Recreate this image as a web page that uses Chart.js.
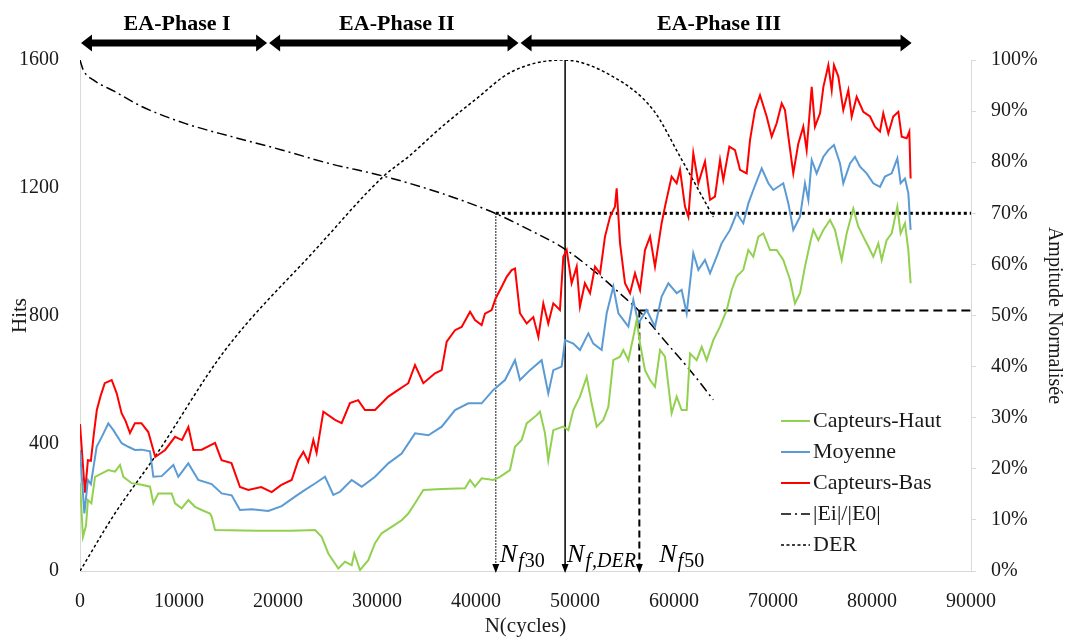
<!DOCTYPE html>
<html>
<head>
<meta charset="utf-8">
<script src="https://cdn.jsdelivr.net/npm/chart.js@4.4.0/dist/chart.umd.min.js"></script>
<style>
  html, body { margin: 0; padding: 0; background: #fff; }
  canvas { display: block; }
</style>
</head>
<body>
<canvas id="chart" width="1070" height="639"></canvas>
<script>
// グラフのデータ

// Capteurs-Bas (赤)
const basX = [0,300,500,800,1100,1400,1700,2100,2500,3200,3700,4200,4600,5050,5550,6200,6900,7600,8600,9600,10300,10950,11450,12300,13640,14300,15300,16160,17000,18300,19360,20300,21380,22050,22560,23060,23570,23900,24580,25760,26430,27270,28100,28780,29800,31140,32150,33160,33840,34680,35860,36530,37040,37880,38550,39400,39900,40570,40910,41580,41990,42600,43100,43600,43940,44440,45120,45790,46300,46800,47300,47810,48480,48820,49160,49660,50170,50500,51000,51520,52020,52530,53030,53540,54040,54210,54550,55050,55560,56060,56570,57070,57580,58080,58750,59090,59760,60270,60610,61110,61450,61950,62460,63130,63640,64140,64650,64980,65590,66160,66670,67340,67680,68180,68690,69360,69870,70370,70880,71210,71550,72050,72560,73060,73400,73910,74240,74750,75090,75590,75930,76160,76600,77100,77610,77950,78450,79120,79800,80300,80810,81140,81650,82150,82660,83000,83500,83770,83900];
const basY = [460,330,245,347,345,430,504,550,588,598,557,494,470,432,463,463,435,357,379,420,410,451,379,380,401,347,338,263,254,263,247,269,285,347,373,342,410,370,499,473,463,526,535,504,504,546,567,588,645,588,619,629,718,754,764,812,786,770,806,817,854,890,921,942,947,807,775,795,733,838,775,838,817,984,1005,901,953,828,901,870,953,932,1047,1109,1141,1198,1026,901,870,932,880,1005,1047,953,1089,1141,1235,1214,1256,1141,1109,1308,1214,1282,1162,1172,1287,1224,1329,1318,1256,1245,1350,1443,1490,1423,1360,1402,1464,1443,1360,1245,1339,1391,1318,1516,1391,1433,1516,1584,1506,1584,1548,1443,1506,1423,1485,1438,1423,1391,1376,1433,1370,1423,1438,1360,1355,1376,1229];

// Moyenne (青)
const moyX = [0,440,800,1100,1680,2200,2860,3370,4210,4880,5550,6230,7070,7410,8250,9430,9930,10940,11950,13300,14310,15320,16160,17340,19020,20370,21720,22730,23740,24750,25590,26260,27440,28450,29800,31140,32490,33840,35190,36540,37880,39230,40570,41750,42930,43940,44440,45450,46630,47300,47810,48650,48990,49830,50500,51350,51850,52690,53200,53870,54380,55390,55890,56400,57240,58080,58750,59430,60270,60770,61280,61950,62460,63130,63640,64310,64810,65660,66330,67000,67510,68010,68860,69530,70030,71040,71550,72050,72730,73230,73570,73910,74410,75090,75590,76160,76770,77100,77780,78280,78790,79460,80130,80810,81310,81990,82560,82890,83330,83670,83900];
const moyY = [379,180,285,272,389,420,462,441,400,389,379,380,375,295,297,332,295,337,285,272,243,237,191,193,188,203,233,254,274,295,238,248,285,264,295,337,368,431,425,452,504,525,525,567,598,660,598,629,660,556,629,640,723,712,692,744,712,692,807,890,807,765,849,775,817,765,859,901,870,880,807,995,943,974,932,984,1026,1068,1120,1089,1151,1193,1261,1214,1193,1214,1151,1068,1109,1214,1162,1287,1245,1297,1318,1334,1276,1214,1276,1297,1266,1245,1214,1203,1235,1245,1292,1214,1229,1183,1068];

// Capteurs-Haut (緑)
const hautX = [0,300,600,800,1150,1520,2200,2860,3540,4040,4380,5220,6230,7070,7410,7910,9260,9600,10270,10940,11620,12290,13130,13300,13640,18010,21380,23740,24410,25080,26090,26770,27440,27710,28280,29120,29800,30470,31480,32490,33160,33840,34680,36540,38890,39400,39900,40570,41750,42420,43430,43940,44610,45120,46130,46460,46970,47300,47810,48820,49330,49830,50500,51180,51680,52190,52860,53370,53870,54550,54880,55390,55890,56230,56570,57070,57580,58080,58590,59090,59760,60270,60770,61280,61620,62290,62800,63300,63970,64650,65320,65830,66330,67000,67510,68010,68520,69020,69700,70370,71040,71720,72220,72730,73230,73740,74070,74580,75090,75760,76260,76940,77440,78110,78620,79120,79630,80130,80640,80980,81480,81990,82560,82890,83330,83670,83900];
const hautY = [275,107,141,222,212,295,306,316,311,332,295,275,270,264,212,243,243,212,196,222,201,191,180,170,128,126,126,128,107,55,8,29,18,55,3,34,87,118,138,159,180,212,254,257,259,285,264,290,285,295,316,389,410,462,488,499,431,347,441,452,441,504,546,608,525,452,473,514,660,671,692,660,733,786,712,629,598,577,692,671,494,546,504,504,681,660,702,660,723,765,817,880,922,943,1005,984,1047,1057,1005,1005,974,912,838,870,953,1026,1068,1036,1068,1099,1068,974,1057,1135,1078,1047,1016,984,1026,974,1036,1057,1141,1057,1089,1005,901];

// |Ei|/|E0| (%)
const eiX = [0,340,1350,3540,6230,10600,15320,20370,25080,30800,36530,41920,45450,48820,52190,54550,56570,59260,61620,63970];
const eiY = [100,98,96.1,93.8,90.9,87.6,85.0,82.4,79.8,77.2,73.9,70.0,66.7,63.2,58.3,54.3,50.7,44.6,39.3,33.5];

// DER (%)
const derX = [0,3540,7580,14650,23740,30800,33130,36530,39900,43600,48820,53870,57910,60610,63970];
const derY = [0,11.3,22.4,43.2,62.8,77.5,81.0,86.9,92.2,97.7,100,96.7,90.2,81.1,69.3];

// 基準線
const nf30 = 42000;
const nfDer = 49000;
const nf50 = 56500;
const level30 = 70;
const level50 = 51;
const xMax = 90000;

// フェーズ
const phaseLabels = ["EA-Phase I", "EA-Phase II", "EA-Phase III"];
const phaseEdges = [0, 19000, 44400, 84100];

const serif = "'Liberation Serif', 'Times New Roman', serif";
const textColor = "#1a1a1a";

function pts(xs, ys) {
  return xs.map(function (x, i) { return { x: x, y: ys[i] }; });
}

// フェーズ矢印、Nf ラベル、凡例を描く
const annotPlugin = {
  id: "annot",
  afterDatasetsDraw(chart) {
    const ctx = chart.ctx;
    const xs = chart.scales.x;
    const yr = chart.scales.y1;
    ctx.save();
    ctx.fillStyle = "#000";

    // 上部の矢印
    const ay = 43;
    for (let i = 0; i < phaseLabels.length; i++) {
      const x1 = xs.getPixelForValue(phaseEdges[i]) + 1;
      const x2 = xs.getPixelForValue(phaseEdges[i + 1]) - 1;
      ctx.fillRect(x1 + 8, ay - 3.5, x2 - x1 - 16, 7);
      ctx.beginPath();
      ctx.moveTo(x1, ay);
      ctx.lineTo(x1 + 11, ay - 8.5);
      ctx.lineTo(x1 + 11, ay + 8.5);
      ctx.closePath();
      ctx.fill();
      ctx.beginPath();
      ctx.moveTo(x2, ay);
      ctx.lineTo(x2 - 11, ay - 8.5);
      ctx.lineTo(x2 - 11, ay + 8.5);
      ctx.closePath();
      ctx.fill();
      ctx.font = "bold 22px " + serif;
      ctx.textAlign = "center";
      ctx.textBaseline = "alphabetic";
      ctx.fillText(phaseLabels[i], (x1 + x2) / 2 + 3, 30);
    }

    // 縦線の矢じり
    const y0 = yr.getPixelForValue(0);
    [nf30, nfDer, nf50].forEach(function (v) {
      const px = xs.getPixelForValue(v);
      ctx.beginPath();
      ctx.moveTo(px, y0 + 2);
      ctx.lineTo(px - 3.5, y0 - 7);
      ctx.lineTo(px + 3.5, y0 - 7);
      ctx.closePath();
      ctx.fill();
    });

    // Nf ラベル
    const nfLabels = [
      { v: nf30, dx: 4, sub: [["f", true], ["30", false]] },
      { v: nfDer, dx: 2, sub: [["f", true], [",DER", true]] },
      { v: nf50, dx: 20, sub: [["f", true], ["50", false]] },
    ];
    ctx.textAlign = "left";
    nfLabels.forEach(function (lab) {
      let px = xs.getPixelForValue(lab.v) + lab.dx;
      ctx.font = "italic 26px " + serif;
      ctx.fillText("N", px, 562);
      px += ctx.measureText("N").width + 1;
      lab.sub.forEach(function (s) {
        ctx.font = (s[1] ? "italic " : "") + "20px " + serif;
        ctx.fillText(s[0], px, 567);
        px += ctx.measureText(s[0]).width + 1;
      });
    });

    // 凡例
    const lx = 781;
    let ly = 421;
    chart.data.datasets.slice(0, 5).forEach(function (ds) {
      ctx.save();
      ctx.strokeStyle = ds.borderColor;
      ctx.lineWidth = ds.borderWidth;
      ctx.setLineDash(ds.borderDash || []);
      ctx.beginPath();
      ctx.moveTo(lx, ly);
      ctx.lineTo(lx + 29, ly);
      ctx.stroke();
      ctx.restore();
      ctx.font = "22px " + serif;
      ctx.textBaseline = "middle";
      ctx.fillStyle = textColor;
      ctx.fillText(ds.label, lx + 32, ly);
      ly += 31;
    });
    ctx.restore();
  },
};

const chartEl = document.getElementById("chart");
new Chart(chartEl, {
  type: "line",
  data: {
    datasets: [
      { label: "Capteurs-Haut", data: pts(hautX, hautY), borderColor: "#92d050", borderWidth: 2, yAxisID: "y" },
      { label: "Moyenne", data: pts(moyX, moyY), borderColor: "#5b9bd5", borderWidth: 2, yAxisID: "y" },
      { label: "Capteurs-Bas", data: pts(basX, basY), borderColor: "#ff0000", borderWidth: 2, yAxisID: "y" },
      { label: "|Ei|/|E0|", data: pts(eiX, eiY), borderColor: "#000", borderWidth: 1.5, borderDash: [10, 4, 2, 4], cubicInterpolationMode: "monotone", yAxisID: "y1" },
      { label: "DER", data: pts(derX, derY), borderColor: "#000", borderWidth: 1.5, borderDash: [3, 2.5], cubicInterpolationMode: "monotone", yAxisID: "y1" },
      // 基準線
      { data: [{ x: nf30, y: level30 }, { x: nf30, y: 0 }], borderColor: "#000", borderWidth: 1.2, borderDash: [1.5, 1.5], yAxisID: "y1" },
      { data: [{ x: nfDer, y: 100 }, { x: nfDer, y: 0 }], borderColor: "#000", borderWidth: 1.5, yAxisID: "y1" },
      { data: [{ x: nf50, y: level50 }, { x: nf50, y: 0 }], borderColor: "#000", borderWidth: 2, borderDash: [7, 4], yAxisID: "y1" },
      { data: [{ x: nf30, y: level30 }, { x: xMax, y: level30 }], borderColor: "#000", borderWidth: 3, borderDash: [3, 3], yAxisID: "y1" },
      { data: [{ x: nf50, y: level50 }, { x: xMax, y: level50 }], borderColor: "#000", borderWidth: 2, borderDash: [9, 5], yAxisID: "y1" },
    ],
  },
  options: {
    responsive: false,
    animation: false,
    events: [],
    layout: { padding: { top: 60, left: 0, right: 0, bottom: 0 } },
    elements: { point: { radius: 0 }, line: { tension: 0, fill: false } },
    plugins: { legend: { display: false }, tooltip: { enabled: false } },
    scales: {
      x: {
        type: "linear",
        min: 0,
        max: xMax,
        ticks: { stepSize: 10000, autoSkip: false, maxRotation: 0, padding: 19, color: textColor, font: { family: serif, size: 20 }, callback: function (v) { return String(v); } },
        grid: { display: false, drawTicks: false },
        border: { display: true, color: "#d9d9d9", width: 1 },
        title: { display: true, text: "N(cycles)", color: textColor, font: { family: serif, size: 21 }, padding: 0 },
        afterFit: function (s) { s.height = 68; },
      },
      y: {
        position: "left",
        min: 0,
        max: 1600,
        ticks: { stepSize: 400, padding: 21, color: textColor, font: { family: serif, size: 20 }, callback: function (v) { return String(v); } },
        grid: { display: false, drawTicks: false },
        border: { display: true, color: "#d9d9d9", width: 1 },
        title: { display: true, text: "Hits", color: textColor, font: { family: serif, size: 21 }, padding: { top: 8, bottom: 0 } },
        afterFit: function (s) { s.width = 80; },
      },
      y1: {
        position: "right",
        min: 0,
        max: 100,
        ticks: { stepSize: 10, padding: 15, color: textColor, font: { family: serif, size: 20 }, callback: function (v) { return v + "%"; } },
        grid: { display: true, drawOnChartArea: false, drawTicks: true, tickLength: 5, color: "#d9d9d9" },
        border: { display: true, color: "#d9d9d9", width: 1 },
        title: { display: true, text: "Ampitude Normalisée", color: textColor, font: { family: serif, size: 20 }, padding: { top: 4, bottom: 0 } },
        afterFit: function (s) { s.width = 99; },
      },
    },
  },
  plugins: [annotPlugin],
});
</script>
</body>
</html>
